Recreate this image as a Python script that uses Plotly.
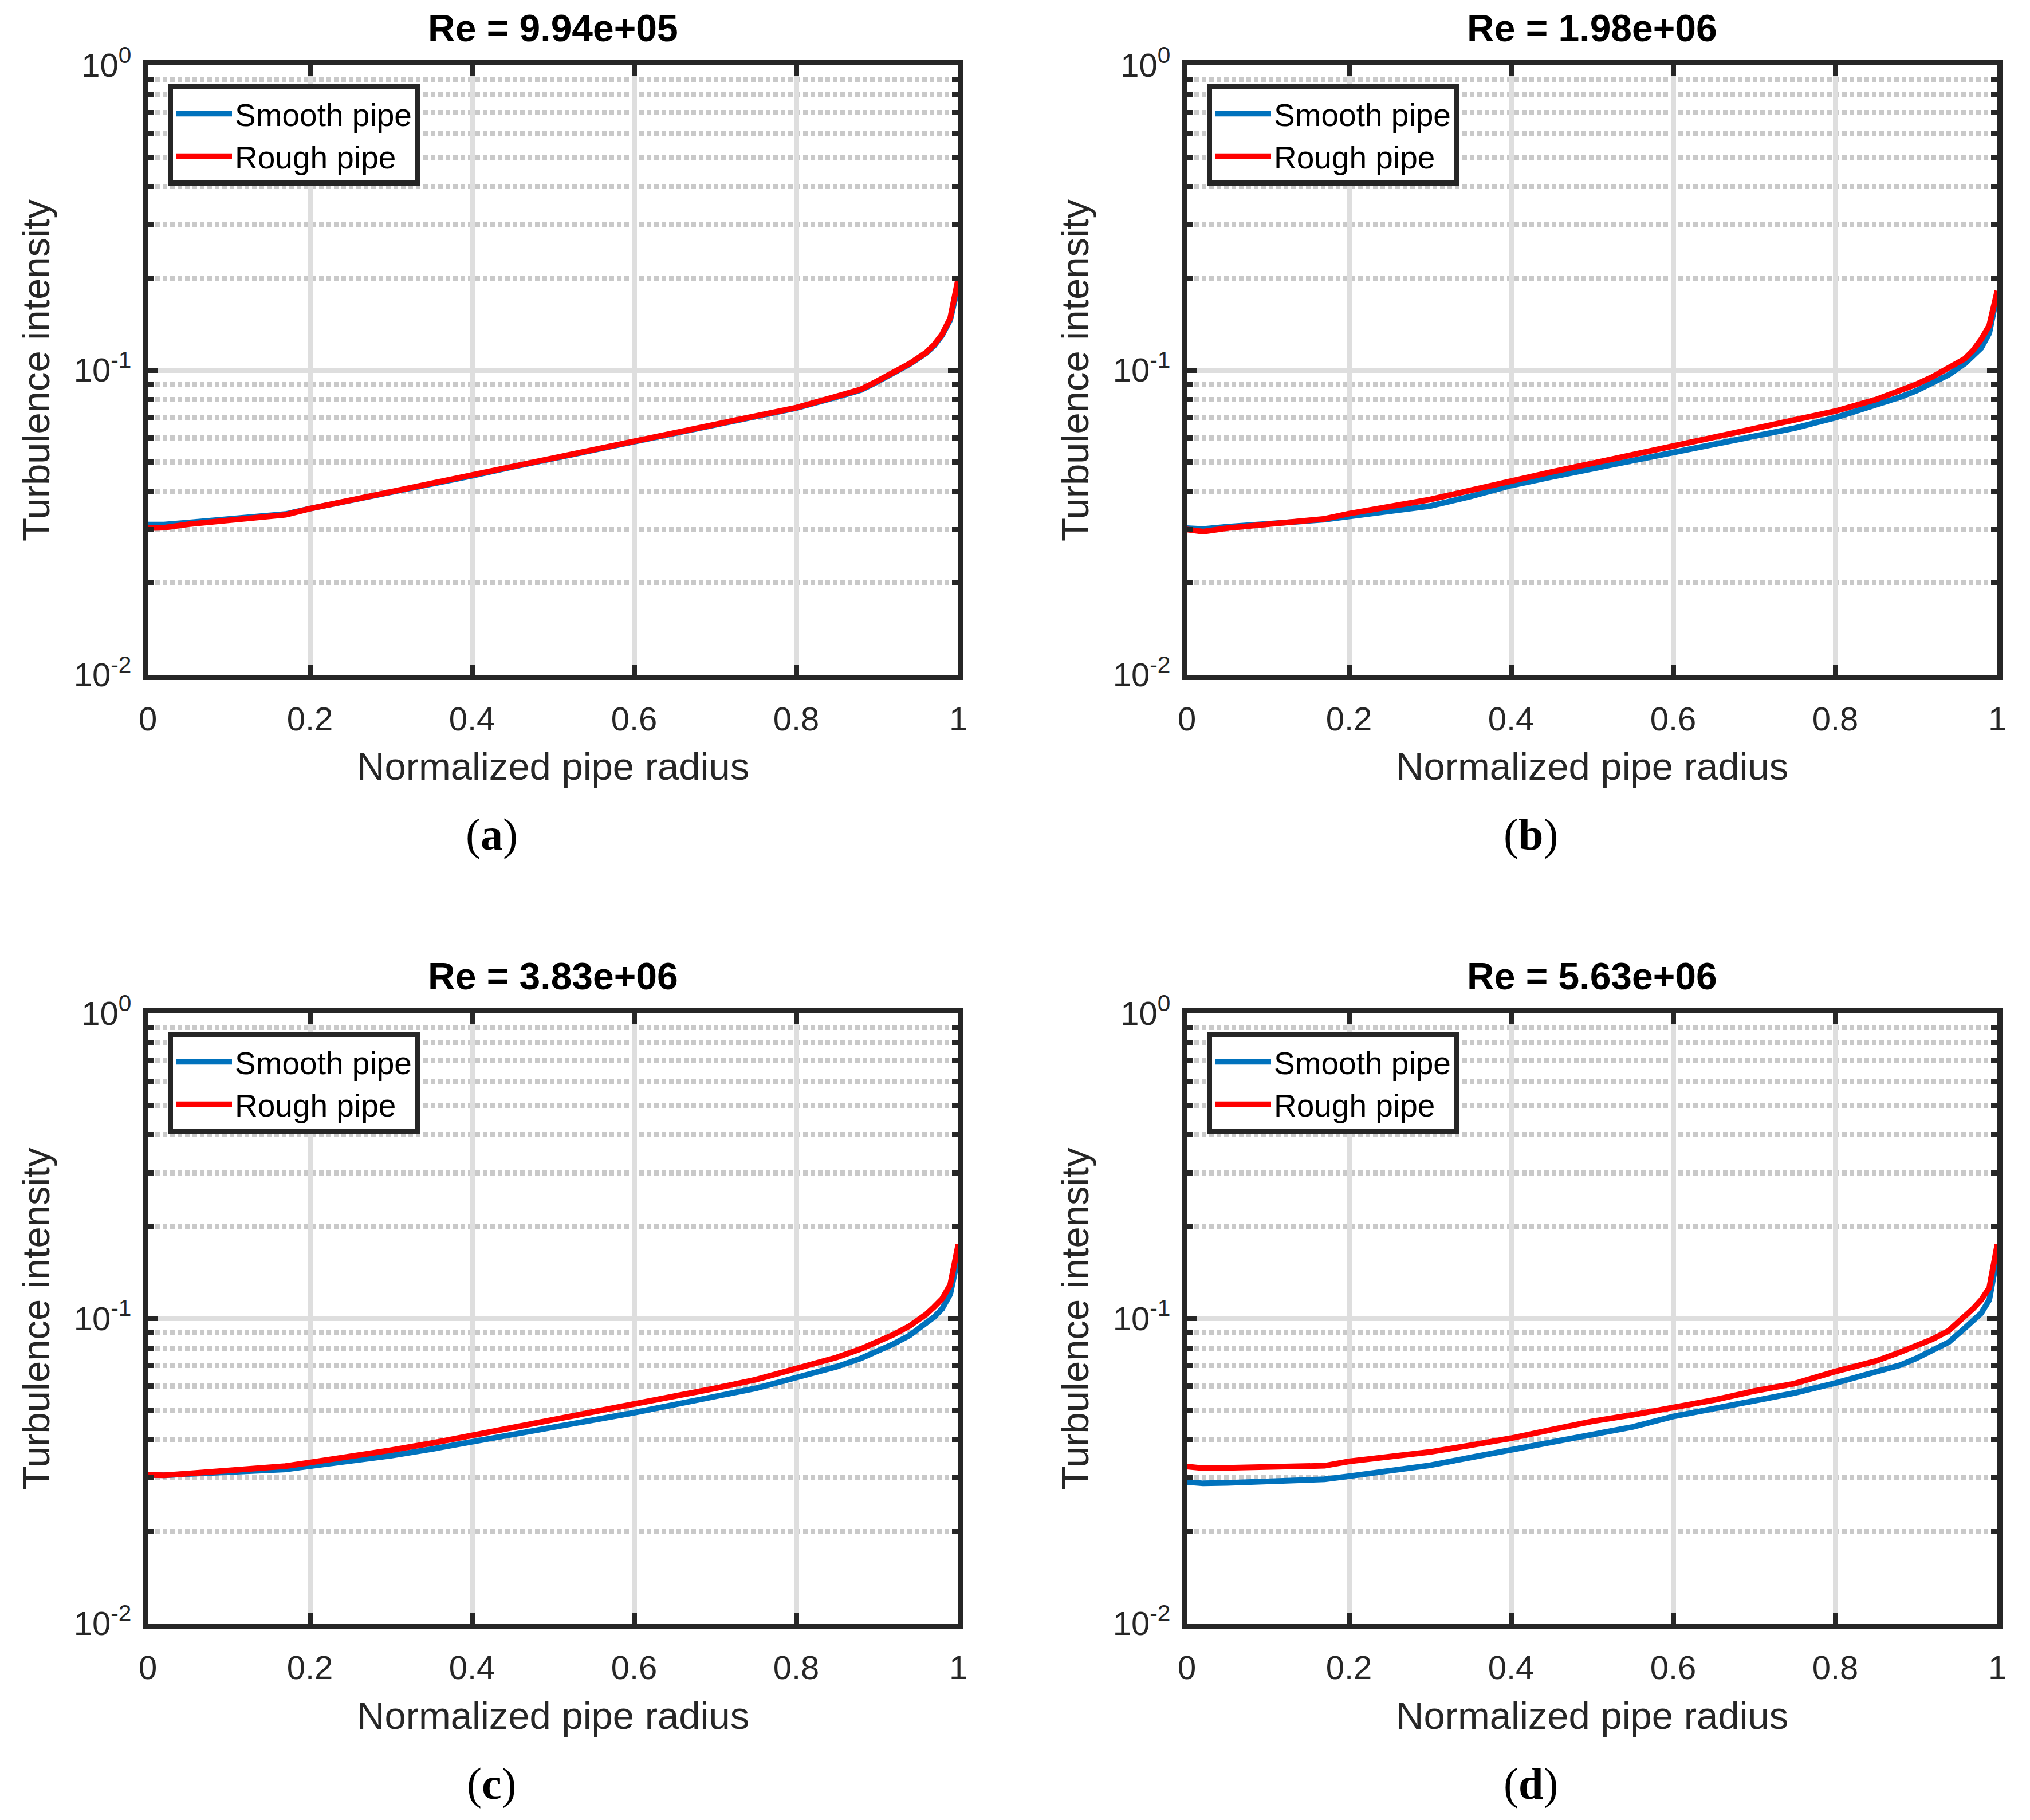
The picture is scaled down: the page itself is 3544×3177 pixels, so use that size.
import plotly.graph_objs as go

# normalized radius grid shared by every curve
radius = [0, 0.02, 0.05, 0.1, 0.17, 0.2, 0.25, 0.3, 0.35, 0.4, 0.45, 0.5, 0.55, 0.6,
          0.65, 0.7, 0.75, 0.8, 0.85, 0.88, 0.9, 0.92, 0.94, 0.96, 0.97, 0.98, 0.99, 1.0]

# (a) Re = 9.94e+05
smooth_a = [0.0311, 0.0311, 0.0316, 0.0325, 0.0337, 0.0351, 0.0373, 0.0398, 0.0424, 0.0450,
            0.0481, 0.0513, 0.0547, 0.0582, 0.0621, 0.0662, 0.0705, 0.0750, 0.0815, 0.0860,
            0.0915, 0.0975, 0.1045, 0.1135, 0.1200, 0.1300, 0.1460, 0.1900]
rough_a = [0.0303, 0.0304, 0.0312, 0.0322, 0.0335, 0.0351, 0.0374, 0.0399, 0.0425, 0.0452,
           0.0482, 0.0514, 0.0548, 0.0583, 0.0622, 0.0663, 0.0707, 0.0753, 0.0820, 0.0865,
           0.0920, 0.0980, 0.1050, 0.1140, 0.1210, 0.1310, 0.1480, 0.2000]

# (b) Re = 1.98e+06
smooth_b = [0.0303, 0.0301, 0.0306, 0.0313, 0.0323, 0.0331, 0.0343, 0.0358, 0.0385, 0.0418,
            0.0446, 0.0474, 0.0504, 0.0537, 0.0571, 0.0607, 0.0645, 0.0698, 0.0765, 0.0815,
            0.0855, 0.0905, 0.0965, 0.1050, 0.1110, 0.1180, 0.1320, 0.1780]
rough_b = [0.0300, 0.0295, 0.0303, 0.0312, 0.0325, 0.0338, 0.0356, 0.0376, 0.0403, 0.0434,
           0.0463, 0.0494, 0.0527, 0.0564, 0.0601, 0.0640, 0.0682, 0.0733, 0.0800, 0.0853,
           0.0898, 0.0950, 0.1015, 0.1090, 0.1160, 0.1260, 0.1400, 0.1820]

# (c) Re = 3.83e+06
smooth_c = [0.0307, 0.0306, 0.0309, 0.0313, 0.0320, 0.0328, 0.0340, 0.0355, 0.0373, 0.0394,
            0.0415, 0.0437, 0.0462, 0.0491, 0.0522, 0.0552, 0.0590, 0.0640, 0.0695, 0.0740,
            0.0780, 0.0825, 0.0880, 0.0960, 0.1010, 0.1075, 0.1200, 0.1600]
rough_c = [0.0307, 0.0306, 0.0310, 0.0317, 0.0328, 0.0337, 0.0352, 0.0370, 0.0390, 0.0414,
           0.0437, 0.0462, 0.0490, 0.0522, 0.0555, 0.0590, 0.0630, 0.0682, 0.0745, 0.0795,
           0.0835, 0.0885, 0.0945, 0.1030, 0.1090, 0.1160, 0.1290, 0.1750]

# (d) Re = 5.63e+06
smooth_d = [0.0291, 0.0288, 0.0289, 0.0292, 0.0297, 0.0304, 0.0316, 0.0330, 0.0350, 0.0371,
            0.0396, 0.0420, 0.0441, 0.0477, 0.0505, 0.0535, 0.0570, 0.0614, 0.0670, 0.0703,
            0.0740, 0.0790, 0.0836, 0.0930, 0.0990, 0.1040, 0.1150, 0.1600]
rough_d = [0.0327, 0.0323, 0.0324, 0.0326, 0.0329, 0.0340, 0.0352, 0.0365, 0.0384, 0.0405,
           0.0432, 0.0460, 0.0483, 0.0510, 0.0540, 0.0578, 0.0612, 0.0670, 0.0725, 0.0775,
           0.0810, 0.0855, 0.0912, 0.1010, 0.1076, 0.1150, 0.1260, 0.1750]

titles = ['Re = 9.94e+05', 'Re = 1.98e+06', 'Re = 3.83e+06', 'Re = 5.63e+06']
panel_tags = ['a', 'b', 'c', 'd']
series_names = ['Smooth pipe', 'Rough pipe']
x_ticks = [0, 0.2, 0.4, 0.6, 0.8, 1]
x_tick_text = ['0', '0.2', '0.4', '0.6', '0.8', '1']
y_ticks = [0.01, 0.1, 1]
y_tick_text = ['10<sup>-2</sup>', '10<sup>-1</sup>', '10<sup>0</sup>']
y_minor = [k * 0.01 for k in range(2, 10)] + [k * 0.1 for k in range(2, 10)]

W, H = 3544, 3177
PAD = 8  # default page margin round the plot div
DARK = '#262626'
BLUE = '#0072BD'
RED = '#FF0000'
FONT = 'Liberation Sans'

# plot boxes in page pixels (left, right, top, bottom)
boxes = [(258, 1673, 114, 1178), (2072, 3487, 114, 1178),
         (258, 1673, 1769, 2834), (2072, 3487, 1769, 2834)]
data = [(smooth_a, rough_a), (smooth_b, rough_b), (smooth_c, rough_c), (smooth_d, rough_d)]


def px(x):
    return (x - PAD) / (W - 2 * PAD)


def py(y):
    return 1 - (y - PAD) / (H - 2 * PAD)


def label(text, x, y, size, color, family=FONT, angle=0):
    return dict(text=text, x=px(x), y=py(y), xref='paper', yref='paper', showarrow=False,
                xanchor='center', yanchor='middle', textangle=angle,
                font=dict(family=family, size=size, color=color))


traces = []
layout = go.Layout(width=W - 2 * PAD, height=H - 2 * PAD,
                   margin=dict(l=0, r=0, t=0, b=0, autoexpand=False),
                   plot_bgcolor='white', paper_bgcolor='white', showlegend=True)
annotations = []

for i, ((l, r, t, b), (smooth, rough)) in enumerate(zip(boxes, data)):
    n = '' if i == 0 else str(i + 1)
    leg = 'legend' + n
    traces.append(go.Scatter(x=radius, y=smooth, mode='lines', name=series_names[0],
                             line=dict(color=BLUE, width=10), xaxis='x' + n, yaxis='y' + n,
                             legend=leg))
    traces.append(go.Scatter(x=radius, y=rough, mode='lines', name=series_names[1],
                             line=dict(color=RED, width=10), xaxis='x' + n, yaxis='y' + n,
                             legend=leg))

    layout['xaxis' + n] = dict(
        domain=[px(l), px(r)], anchor='y' + n, range=[0, 1], automargin=False,
        tickmode='array', tickvals=x_ticks, ticktext=x_tick_text,
        showgrid=True, gridcolor='#dedede', gridwidth=9, zeroline=False,
        showline=True, linecolor=DARK, linewidth=9, mirror='allticks',
        ticks='inside', ticklen=18, tickwidth=9, tickcolor=DARK, ticklabelstandoff=18,
        tickfont=dict(family=FONT, size=58, color=DARK))
    layout['yaxis' + n] = dict(
        domain=[py(b), py(t)], anchor='x' + n, type='log', range=[-2, 0], automargin=False,
        tickmode='array', tickvals=y_ticks, ticktext=y_tick_text,
        showgrid=True, gridcolor='#dedede', gridwidth=9, zeroline=False,
        showline=True, linecolor=DARK, linewidth=9, mirror='allticks',
        ticks='inside', ticklen=18, tickwidth=9, tickcolor=DARK, ticklabelstandoff=8,
        tickfont=dict(family=FONT, size=58, color=DARK),
        minor=dict(tickmode='array', tickvals=y_minor, ticks='inside', ticklen=11,
                   tickwidth=9, tickcolor=DARK, showgrid=True, gridcolor='#c9c9c9',
                   gridwidth=9, griddash='8px,5px'))
    layout[leg] = dict(x=px(l + 35), y=py(t + 33), xanchor='left', yanchor='top',
                       bgcolor='white', bordercolor=DARK, borderwidth=9,
                       font=dict(family=FONT, size=55, color='black'),
                       itemwidth=98, tracegroupgap=0)

    cx = (l + r) / 2
    annotations.append(label('<b>' + titles[i] + '</b>', cx, t - 65, 66, 'black'))
    annotations.append(label('Normalized pipe radius', cx, b + 160, 67, DARK))
    annotations.append(label('Turbulence intensity', l - 196, (t + b) / 2, 67, DARK, angle=-90))
    annotations.append(label('(<b>' + panel_tags[i] + '</b>)', cx - 107, b + 279, 78, 'black',
                             family='Liberation Serif'))

layout['annotations'] = annotations
fig = go.Figure(data=traces, layout=layout)
fig.write_html("out.html")
